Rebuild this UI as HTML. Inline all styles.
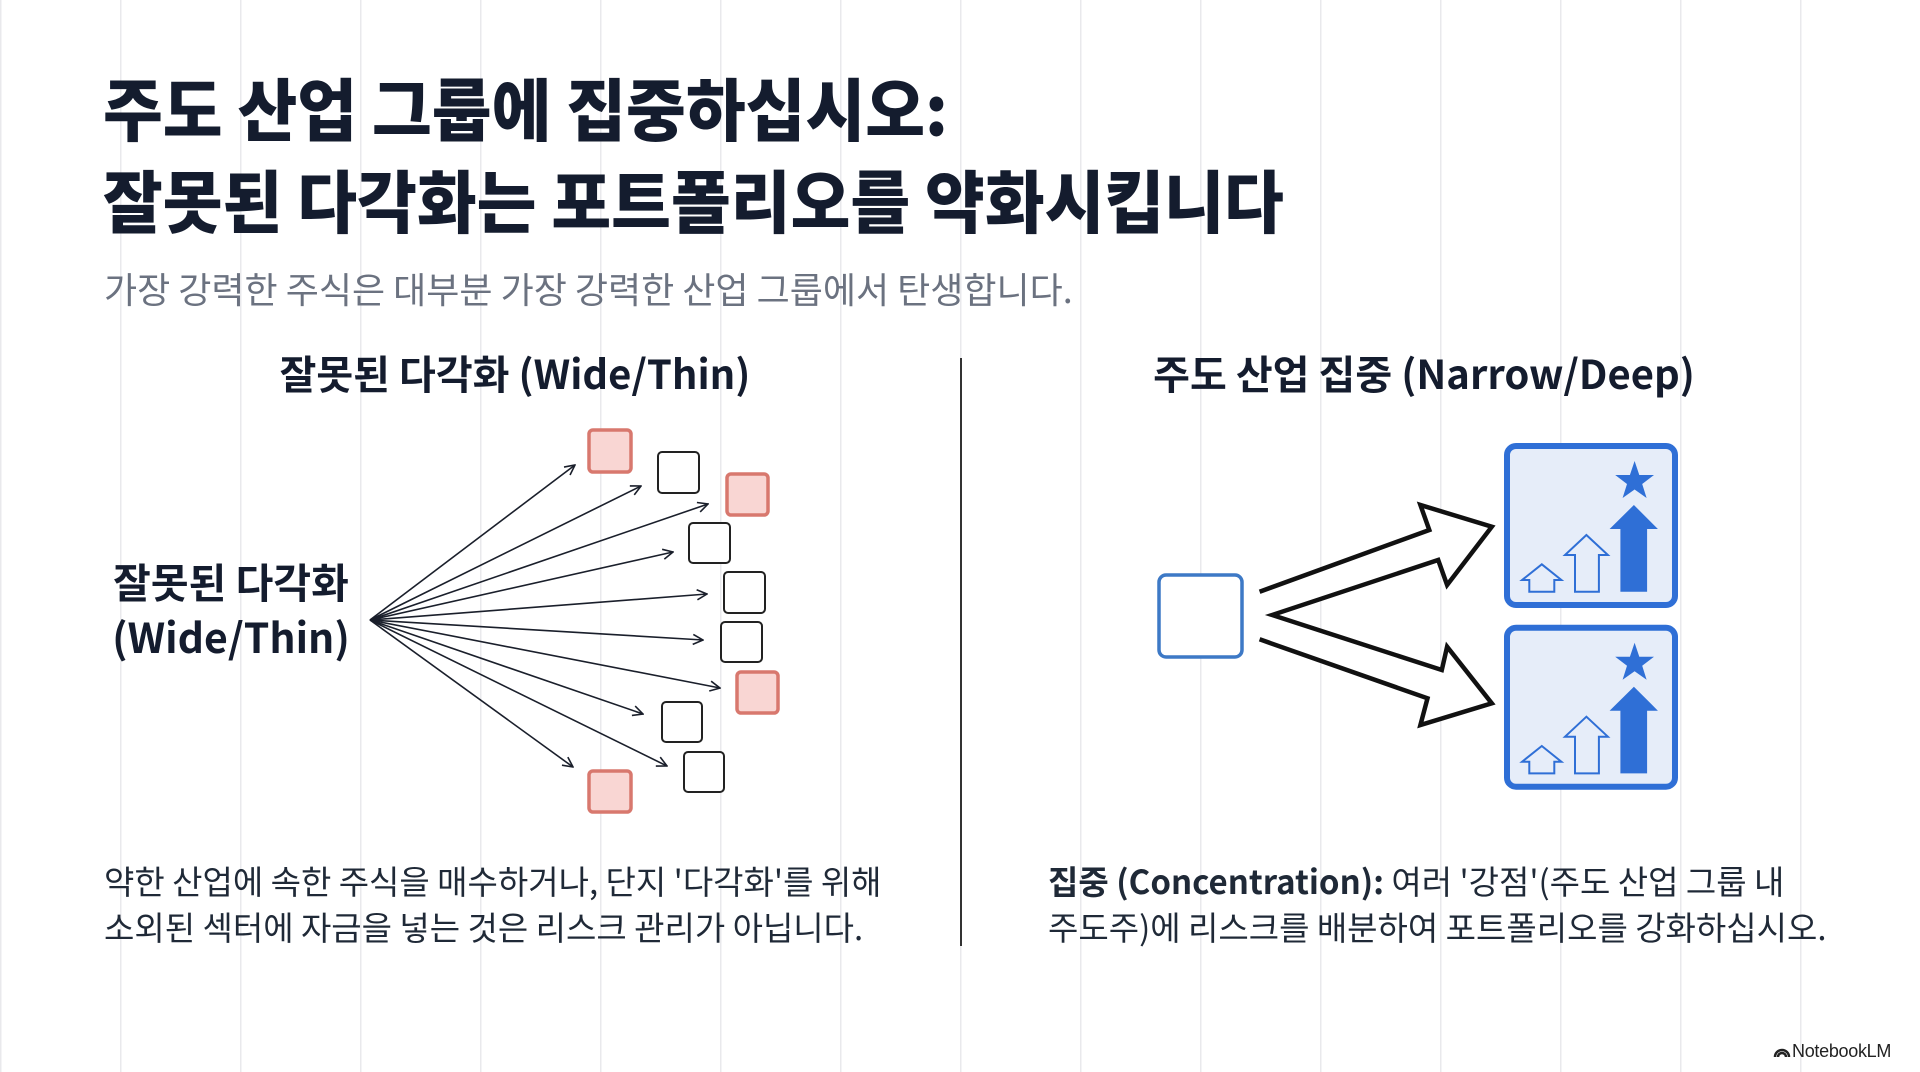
<!DOCTYPE html>
<html><head><meta charset="utf-8"><style>
*{margin:0;padding:0}
body{width:1920px;height:1072px;overflow:hidden;position:relative;background:#fff;
background-image:repeating-linear-gradient(90deg,#e9e9ec 0,#e9e9ec 1.5px,transparent 1.5px,transparent 120px);
font-family:"Liberation Sans","Noto Sans CJK KR",sans-serif;}
.t{position:absolute;white-space:nowrap;line-height:1}
.h1{font-family:"Noto Sans CJK KR",sans-serif;font-weight:900;font-size:65px;color:#141c2e;left:103px;transform:scaleY(1.05);transform-origin:left center}
.sub{font-family:"Noto Sans CJK KR",sans-serif;font-size:36px;color:#6b7280;left:104px;top:270px}
.sh{font-family:"Noto Sans CJK KR",sans-serif;font-weight:700;font-size:40px;color:#141c2e;transform:translateX(-50%)}
.p{font-family:"Noto Sans CJK KR",sans-serif;font-size:33px;color:#1f2937}
</style></head><body>
<div class="t h1" style="top:74px">주도 산업 그룹에 집중하십시오:</div>
<div class="t h1" style="top:166px">잘못된 다각화는 포트폴리오를 약화시킵니다</div>
<div class="t sub">가장 강력한 주식은 대부분 가장 강력한 산업 그룹에서 탄생합니다.</div>
<div class="t sh" style="left:515px;top:352px">잘못된 다각화 (Wide/Thin)</div>
<div class="t sh" style="left:1424px;top:352px">주도 산업 집중 (Narrow/Deep)</div>
<div class="t sh" style="left:231px;top:560px;font-size:41px">잘못된 다각화</div>
<div class="t sh" style="left:231px;top:615px;font-size:41px">(Wide/Thin)</div>
<div style="position:absolute;left:960px;top:358px;width:2px;height:588px;background:#333"></div>
<div class="t p" style="left:104px;top:864px">약한 산업에 속한 주식을 매수하거나, 단지 '다각화'를 위해</div>
<div class="t p" style="left:104px;top:910px">소외된 섹터에 자금을 넣는 것은 리스크 관리가 아닙니다.</div>
<div class="t p" style="left:1048px;top:864px"><b style="font-weight:700">집중 (Concentration):</b> 여러 '강점'(주도 산업 그룹 내</div>
<div class="t p" style="left:1048px;top:910px">주도주)에 리스크를 배분하여 포트폴리오를 강화하십시오.</div>
<div class="t" style="left:1772px;top:1042px;font-size:18px;color:#222;letter-spacing:-0.3px">
<svg width="20" height="16" viewBox="0 0 20 16" style="vertical-align:-2px"><path d="M3 14a7 7 0 0 1 14 0M6 14a4 4 0 0 1 8 0" fill="none" stroke="#222" stroke-width="2.5"/></svg>NotebookLM</div>
<svg width="1920" height="1072" style="position:absolute;left:0;top:0">
<defs><marker id="a" markerWidth="12" markerHeight="12" refX="11" refY="6" orient="auto" markerUnits="userSpaceOnUse"><path d="M1 1L11 6L1 11" fill="none" stroke="#1a1f2b" stroke-width="1.6"/></marker></defs>
<g stroke="#1a1f2b" stroke-width="1.6" fill="none" marker-end="url(#a)">
<line x1="370" y1="620" x2="575" y2="465"/><line x1="370" y1="620" x2="641" y2="486"/>
<line x1="370" y1="620" x2="708" y2="504"/><line x1="370" y1="620" x2="673" y2="552"/>
<line x1="370" y1="620" x2="707" y2="594"/><line x1="370" y1="620" x2="703" y2="640"/>
<line x1="370" y1="620" x2="720" y2="688"/><line x1="370" y1="620" x2="643" y2="714"/>
<line x1="370" y1="620" x2="667" y2="766"/><line x1="370" y1="620" x2="573" y2="767"/>
</g>
<g fill="#f9d6d3" stroke="#d8786e" stroke-width="3.5">
<rect x="589" y="430" width="42" height="42" rx="4"/><rect x="727" y="474" width="41" height="41" rx="4"/>
<rect x="737" y="672" width="41" height="41" rx="4"/><rect x="589" y="771" width="42" height="41" rx="4"/>
</g>
<g fill="#fff" stroke="#222" stroke-width="2">
<rect x="658" y="452" width="41" height="41" rx="4"/><rect x="689" y="523" width="41" height="40" rx="4"/>
<rect x="724" y="572" width="41" height="41" rx="4"/><rect x="721" y="622" width="41" height="40" rx="4"/>
<rect x="662" y="702" width="40" height="40" rx="4"/><rect x="684" y="752" width="40" height="40" rx="4"/>
</g>
<rect x="1159" y="575" width="83" height="82" rx="7" fill="#fff" stroke="#3d79c6" stroke-width="3.5"/>
<polyline points="1259.6,591.7 1429.3,530 1420.4,505 1491.8,526.7 1447.1,585 1438.2,560 1272.1,615 1441.8,670 1447.1,646.7 1491.8,703.3 1420.4,725 1427.5,698.3 1259.6,639.3" fill="#fff" stroke="#111" stroke-width="4.5" stroke-linejoin="miter"/>
<g id="bx">
<rect x="1507" y="446" width="168" height="159" rx="9" fill="#e6edf9" stroke="#2f6fd6" stroke-width="6"/>
<polygon points="1634.6,461 1639.3,475 1654,475 1642.2,484 1646.6,498 1634.6,489.5 1622.6,498 1627,484 1615.2,475 1629.9,475" fill="#2f6fd6"/>
<polygon points="1633.9,505 1657.9,529 1647.1,529 1647.1,591.7 1620.4,591.7 1620.4,529 1609.6,529" fill="#2f6fd6"/>
<polygon points="1586.4,535 1607.9,555 1598.9,555 1598.9,591.7 1575,591.7 1575,555 1565,555" fill="none" stroke="#2f6fd6" stroke-width="2"/>
<polygon points="1541.8,564.3 1561.4,580 1554.3,580 1554.3,591.7 1529.3,591.7 1529.3,580 1522.1,580" fill="none" stroke="#2f6fd6" stroke-width="2"/>
</g>
<use href="#bx" y="181.7"/>
</svg>
</body></html>
